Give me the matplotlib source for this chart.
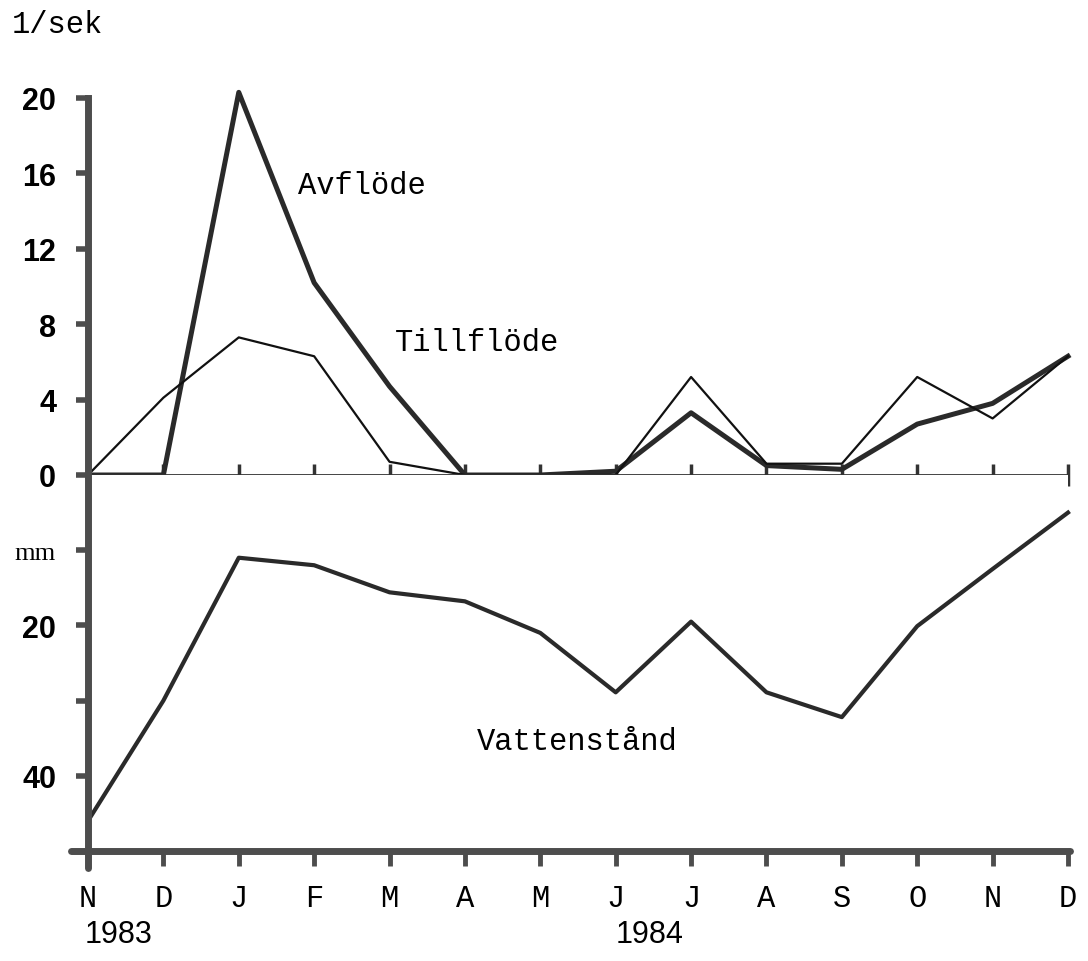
import numpy as np
import matplotlib.pyplot as plt

# månader nov 1983 - dec 1984
months = ['N', 'D', 'J', 'F', 'M', 'A', 'M', 'J', 'J', 'A', 'S', 'O', 'N', 'D']
avflode = [0, 0, 20.3, 10.2, 4.7, 0, 0, 0.2, 3.3, 0.5, 0.3, 2.7, 3.8, 6.3]       # l/sek
tillflode = [0, 4.1, 7.3, 6.3, 0.7, 0, 0, 0, 5.2, 0.6, 0.6, 5.2, 3.0, 6.3]     # l/sek
vattenstand = [46, 30, 11, 12, 15.6, 16.8, 21, 28.9, 19.5, 28.9, 32.2, 20.1, 12.5, 5]  # mm

flow_ticks = [0, 4, 8, 12, 16, 20]
level_ticks = [10, 20, 30, 40]
level_labels = ['mm', '20', '', '40']

x = np.arange(len(months))

ink = '#2a2a2a'
axis_ink = '#4d4d4d'
num_font = dict(family='Liberation Sans', weight='bold', size=22)
mono = 'Liberation Mono'
mono_size = 22

fig = plt.figure(figsize=(10.88, 9.62), dpi=100)
W, H = 1088, 962
left = 88 / W
width = (1068 - 88) / W
ax_top = fig.add_axes([left, 1 - 476 / H, width, (476 - 99) / H])
ax_bot = fig.add_axes([left, 1 - 852 / H, width, (852 - 476) / H])

# övre delen: flöden
ax_top.plot(x, avflode, color=ink, lw=3.6, clip_on=False, solid_joinstyle='round')
ax_top.plot(x, tillflode, color='#111111', lw=1.6, clip_on=False)
ax_top.set_xlim(0, 13)
ax_top.set_ylim(0, 20)
for s in ['top', 'right']:
    ax_top.spines[s].set_visible(False)
ax_top.spines['left'].set_linewidth(5)
ax_top.spines['left'].set_color(axis_ink)
ax_top.spines['bottom'].set_linewidth(2)
ax_top.spines['bottom'].set_color('#333333')
ax_top.set_yticks(flow_ticks)
ax_top.set_yticklabels([str(v) for v in flow_ticks], fontdict=num_font)
ax_top.tick_params(axis='y', direction='out', length=9, width=4, color=axis_ink, pad=14)
ax_top.set_xticks(x)
ax_top.set_xticklabels([])
ax_top.tick_params(axis='x', direction='inout', length=16, width=2.5, color='#333333')

ax_top.text(2.79, 15.4, 'Avflöde', family=mono, fontsize=mono_size, va='center', ha='left')
ax_top.text(4.07, 7.06, 'Tillflöde', family=mono, fontsize=mono_size, va='center', ha='left')

# nedre delen: vattenstånd, inverterad skala
ax_bot.plot(x, vattenstand, color=ink, lw=3.0, clip_on=False)
ax_bot.set_xlim(0, 13)
ax_bot.set_ylim(50, 0)
for s in ['top', 'right']:
    ax_bot.spines[s].set_visible(False)
for s in ['left', 'bottom']:
    ax_bot.spines[s].set_linewidth(5)
    ax_bot.spines[s].set_color(axis_ink)
    ax_bot.spines[s].set_capstyle('round')
# axlarna sticker ut lite förbi hörnet
ax_bot.spines['left'].set_bounds(0, 52.3)
ax_bot.spines['bottom'].set_bounds(-0.22, 13.03)
ax_bot.set_yticks(level_ticks)
ax_bot.set_yticklabels(level_labels, fontdict=num_font)
mm_label = ax_bot.get_yticklabels()[0]
mm_label.set_fontfamily('Liberation Serif')
mm_label.set_fontweight('normal')
mm_label.set_fontsize(19)
ax_bot.tick_params(axis='y', direction='out', length=9, width=4, color=axis_ink, pad=14)
ax_bot.set_xticks(x)
ax_bot.set_xticklabels(months, family=mono, fontsize=mono_size)
ax_bot.tick_params(axis='x', direction='out', length=11, width=3.5, color=axis_ink, pad=12)

ax_bot.text(5.16, 35.4, 'Vattenstånd', family=mono, fontsize=mono_size, va='center', ha='left')

trans = ax_bot.get_xaxis_transform()
ax_bot.text(-0.05, -0.22, '1983', transform=trans, fontsize=22,
            family=['Liberation Sans Narrow', 'Liberation Sans'], ha='left', va='center')
ax_bot.text(7.45, -0.22, '1984', transform=trans, fontsize=22,
            family=['Liberation Sans Narrow', 'Liberation Sans'], ha='center', va='center')

fig.text(12 / W, 1 - 25 / H, '1/sek', family=mono, fontsize=mono_size, ha='left', va='center')

fig.savefig('out.png', dpi=100)
